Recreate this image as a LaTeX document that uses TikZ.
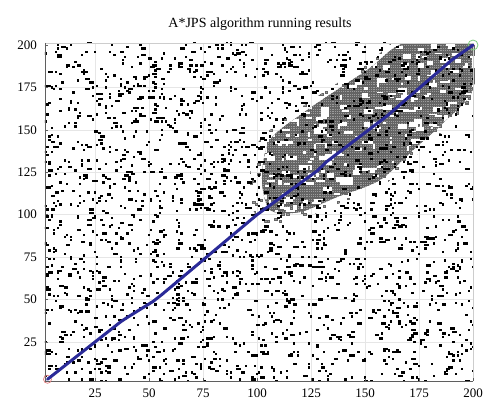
\documentclass[tikz,border=0pt]{standalone}
\usepackage{fontspec}
\setmainfont{Liberation Serif}
\definecolor{pathblue}{RGB}{42,42,152}
\definecolor{gridgray}{RGB}{230,230,230}
\definecolor{axgray}{RGB}{95,95,95}
\definecolor{edgegray}{RGB}{205,205,205}
\definecolor{explgray}{RGB}{155,155,155}
\definecolor{explline}{RGB}{100,100,100}
\definecolor{startred}{RGB}{225,125,125}
\definecolor{goalgreen}{RGB}{125,205,125}
\begin{document}
\begin{tikzpicture}[x=1pt,y=1pt,
  gridline/.style={gridgray, line width=0.6pt},
  axline/.style={axgray, line width=0.8pt},
  ticklabel/.style={font=\fontsize{13}{13}\selectfont, inner sep=0pt},
  obst/.style={fill=black},
  explcell/.style={fill=explgray, draw=explline, line width=0.3pt},
  route/.style={pathblue, line width=3pt, line cap=round, line join=round}]
\useasboundingbox (0,0) rectangle (500,416);
\fill[white] (0,0) rectangle (500,416);
\node[font=\fontsize{14}{14}\selectfont, inner sep=0pt] (title) at (260,392) {A*JPS algorithm running results};
\begin{scope}[shift={(41,31.6)}, x=2.16pt, y=1.697pt]
  \coordinate (ll) at (1.85,2);
  \coordinate (ur) at (200,201.2);
  % grid
  \foreach \v in {25,50,...,175} {
    \draw[gridline] (\v,2) -- (\v,201.2);
    \draw[gridline] (1.85,\v) -- (200,\v);
  }
  \pgfmathsetseed{4321}
  % ragged halo of explored cells
  \begin{scope}
    \clip (ll) rectangle (ur);
    \begin{scope}[shift={(150,152)}, scale=1.12, shift={(-150,-152)}]
      \clip plot[smooth cycle, tension=0.5] coordinates {
        (102.3,121.6) (106.0,144.0) (121.3,159.9) (137.0,173.5) (152.3,186.4)
        (168.5,201.2) (200,201.2) (200,173.5) (186.1,154.0) (172.2,138.1)
        (156.9,120.4) (137.0,110.4) (119.9,101.6) (106.0,102.8)};
      \foreach \k in {1,...,700} {
        \pgfmathrandominteger{\ci}{90}{205}
        \pgfmathrandominteger{\cj}{90}{205}
        \draw[explcell] (\ci-0.5,\cj-0.5) rectangle ++(1,1);
      }
    \end{scope}
  \end{scope}
  % explored region core
  \begin{scope}
    \clip plot[smooth cycle, tension=0.5] coordinates {
      (102.3,121.6) (106.0,144.0) (121.3,159.9) (137.0,173.5) (152.3,186.4)
      (168.5,201.2) (200,201.2) (200,173.5) (186.1,154.0) (172.2,138.1)
      (156.9,120.4) (137.0,110.4) (119.9,101.6) (106.0,102.8)};
    \fill[explgray] (100,100) rectangle (200,201.2);
    \foreach \g in {100,...,200} {
      \draw[explline, line width=0.3pt] (\g+0.5,100) -- (\g+0.5,201.2);
      \draw[explline, line width=0.3pt] (100,\g+0.5) -- (200,\g+0.5);
    }
    \foreach \k in {1,...,420} {
      \pgfmathrandominteger{\hi}{100}{200}
      \pgfmathrandominteger{\hj}{100}{201}
      \pgfmathrandominteger{\ha}{1}{4}
      \pgfmathrandominteger{\hb}{1}{3}
      \fill[white] (\hi-0.5,\hj-0.5) rectangle ++(\ha,\hb);
    }
  \end{scope}
  % obstacles
  \begin{scope}
    \clip (ll) rectangle (ur);
    \foreach \k in {1,...,2400} {
      \pgfmathrandominteger{\oi}{2}{200}
      \pgfmathrandominteger{\oj}{2}{201}
      \pgfmathrandominteger{\ow}{1}{5}
      \pgfmathsetmacro\owid{\ow==5 ? 2.1 : 1.1}
      \fill[obst] (\oi-0.55,\oj-0.7) rectangle ++(\owid,1.4);
    }
  \end{scope}
  % axes
  \draw[edgegray, line width=0.6pt] (1.85,201.2) -- (200,201.2) -- (200,2);
  \draw[axline] (1.85,201.2) -- (ll) -- (200,2);
  \foreach \v in {25,50,...,200} {
    \draw[axline, line width=0.5pt] (\v,2) -- ++(0,2);
    \draw[axline, line width=0.5pt] (1.85,\v) -- ++(1.5,0);
    \node[ticklabel] (xl\v) at (\v,-5.07) {\v};
    \node[ticklabel, anchor=east] (yl\v) at (-1.85,\v) {\v};
  }
  % path
  \node[circle, draw=startred, line width=0.7pt, minimum size=8pt, inner sep=0pt] (start) at (3,3) {};
  \node[circle, draw=goalgreen, line width=0.8pt, minimum size=10pt, inner sep=0pt] (goal) at (200,200) {};
  \draw[route] (start.center) -- (37,37) -- (40,39.5) -- (52,49) -- (56,53) -- (100,100)
     -- (128,126) -- (132,131) -- (160,158) -- (190,191) -- (goal.center);
\end{scope}
\end{tikzpicture}
\end{document}
